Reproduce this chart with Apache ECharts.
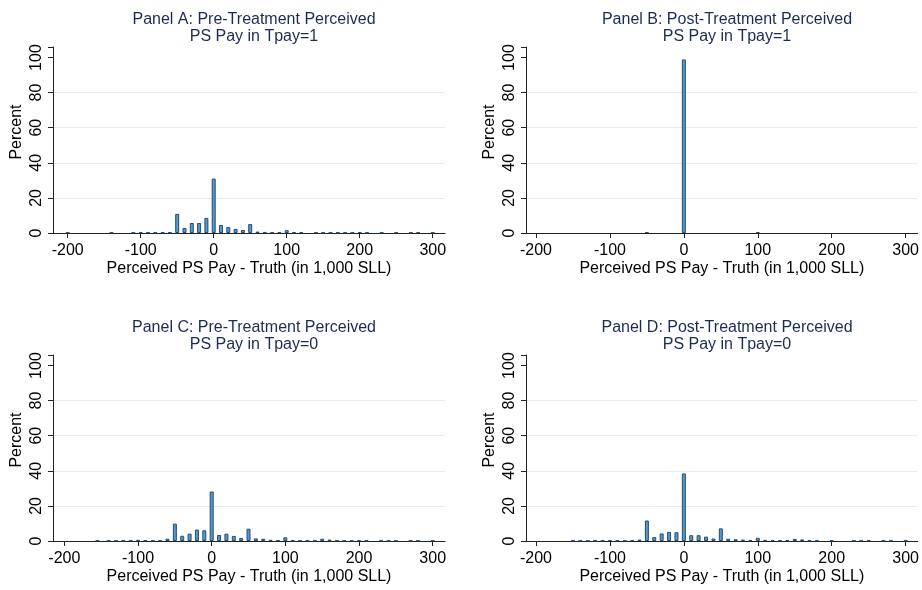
<!DOCTYPE html>
<html>
<head>
<meta charset="utf-8">
<script src="https://cdn.jsdelivr.net/npm/echarts@6/dist/echarts.min.js"></script>
<style>html,body{margin:0;padding:0;background:#fff}#c{width:922px;height:590px}</style>
</head>
<body>
<div id="c"></div>
<script>
// ---- data ----
const titles = [
  'Panel A: Pre-Treatment Perceived\nPS Pay in Tpay=1',
  'Panel B: Post-Treatment Perceived\nPS Pay in Tpay=1',
  'Panel C: Pre-Treatment Perceived\nPS Pay in Tpay=0',
  'Panel D: Post-Treatment Perceived\nPS Pay in Tpay=0'
];
const xTicks = [-200, -100, 0, 100, 200, 300];
const yTicks = [0, 20, 40, 60, 80, 100];
const xTitle = 'Perceived PS Pay - Truth (in 1,000 SLL)';
const yTitle = 'Percent';

const binsA = [-200,-140,-110,-100,-90,-80,-70,-60,-50,-40,-30,-20,-10,0,10,20,30,40,50,60,70,80,90,100,110,120,140,150,160,170,180,190,200,210,230,250,270,280,300];
const pctA  = [0.3,0.3,0.3,0.4,0.4,0.3,0.4,0.4,10.9,2.9,5.7,5.7,8.6,31.0,4.6,3.4,2.3,1.7,5.1,0.8,0.6,0.4,0.4,1.6,0.4,0.5,0.3,0.3,0.3,0.3,0.3,0.3,0.5,0.3,0.3,0.3,0.3,0.4,0.3];

const binsB = [-50, 0, 100];
const pctB  = [0.5, 98.9, 0.5];

const binsC = [-155,-140,-130,-120,-110,-100,-90,-80,-70,-60,-50,-40,-30,-20,-10,0,10,20,30,40,50,60,70,80,90,100,110,120,130,140,150,160,170,180,190,200,210,230,240,250,270,280,300];
const pctC  = [0.3,0.3,0.3,0.3,0.3,0.7,0.4,0.3,0.4,1.3,9.9,3.0,4.2,6.5,6.1,28.2,3.4,4.2,2.9,1.7,7.0,1.5,1.3,0.7,0.5,2.1,0.4,0.4,0.3,0.3,1.3,0.8,0.4,0.3,0.3,0.5,0.3,0.3,0.3,0.3,0.3,0.3,0.3];

const binsD = [-150,-140,-130,-120,-110,-100,-90,-80,-70,-60,-50,-40,-30,-20,-10,0,10,20,30,40,50,60,70,80,90,100,110,120,130,140,150,160,170,180,200,230,240,250,270,280,300];
const pctD  = [0.3,0.3,0.3,0.3,0.3,0.5,0.4,0.3,0.5,0.8,11.7,2.2,4.3,5.2,5.0,38.5,3.3,3.3,2.5,1.4,7.2,1.3,1.0,0.8,0.6,1.8,0.6,0.5,0.5,0.6,1.2,0.9,0.4,0.3,0.4,0.3,0.3,0.4,0.3,0.3,0.3];

// ---- layout ----
const FONT = '"Liberation Sans", Arial, Helvetica, sans-serif';
const panels = [
  {bins: binsA, pct: pctA, left: 53,  top: 47,  xmin: -220.1, xmax: 316.8},
  {bins: binsB, pct: pctB, left: 526, top: 47,  xmin: -213.5, xmax: 316.2},
  {bins: binsC, pct: pctC, left: 53,  top: 355, xmin: -215.4, xmax: 316.7},
  {bins: binsD, pct: pctD, left: 526, top: 355, xmin: -213.5, xmax: 316.2}
];
const W = 392, H = 186;
const gridCol = '#e6edf1';
const axisCol = '#222';

const option = {
  animation: false,
  backgroundColor: '#fff',
  title: panels.map((p, i) => ({
    text: titles[i],
    left: p.left + W / 2,
    top: p.top - 41,
    textAlign: 'center',
    textStyle: {fontFamily: FONT, fontSize: 16, fontWeight: 'normal', color: '#1c2b52', lineHeight: 17}
  })),
  grid: panels.map(p => ({left: p.left, top: p.top, width: W, height: H, containLabel: false})),
  xAxis: panels.map((p, i) => ({
    type: 'value', gridIndex: i, min: p.xmin, max: p.xmax,
    name: xTitle, nameLocation: 'middle', nameGap: 28,
    nameTextStyle: {fontFamily: FONT, fontSize: 16, color: '#000'},
    axisLine: {show: true, onZero: false, lineStyle: {color: axisCol, width: 1}},
    axisTick: {show: true, length: 5, customValues: xTicks, lineStyle: {color: axisCol}},
    axisLabel: {customValues: xTicks, margin: 10, fontFamily: FONT, fontSize: 16, color: '#000'},
    splitLine: {show: false}
  })),
  yAxis: panels.map((p, i) => ({
    type: 'value', gridIndex: i, min: 0, max: 106, interval: 20,
    name: yTitle, nameLocation: 'middle', nameGap: 28, nameRotate: 90,
    nameTextStyle: {fontFamily: FONT, fontSize: 16, color: '#000', padding: [0, 0, 0, 16]},
    axisLine: {show: true, onZero: false, lineStyle: {color: axisCol, width: 1}},
    axisTick: {show: true, length: 5, lineStyle: {color: axisCol}},
    axisLabel: {rotate: 90, margin: 8, fontFamily: FONT, fontSize: 16, color: '#000',
      formatter: v => (yTicks.indexOf(v) >= 0 ? String(v) : '')},
    splitLine: {show: true, lineStyle: {color: ['rgba(0,0,0,0)', gridCol, gridCol, gridCol, gridCol, 'rgba(0,0,0,0)'], width: 1}}
  })),
  series: panels.map((p, i) => ({
    type: 'bar', xAxisIndex: i, yAxisIndex: i,
    barWidth: 4,
    data: p.bins.map((b, k) => [b, p.pct[k]]),
    itemStyle: {color: '#5e96c3', borderColor: '#1f4e79', borderWidth: 1}
  }))
};

const chart = echarts.init(document.getElementById('c'), null, {renderer: 'canvas'});
chart.setOption(option);
</script>
</body>
</html>
